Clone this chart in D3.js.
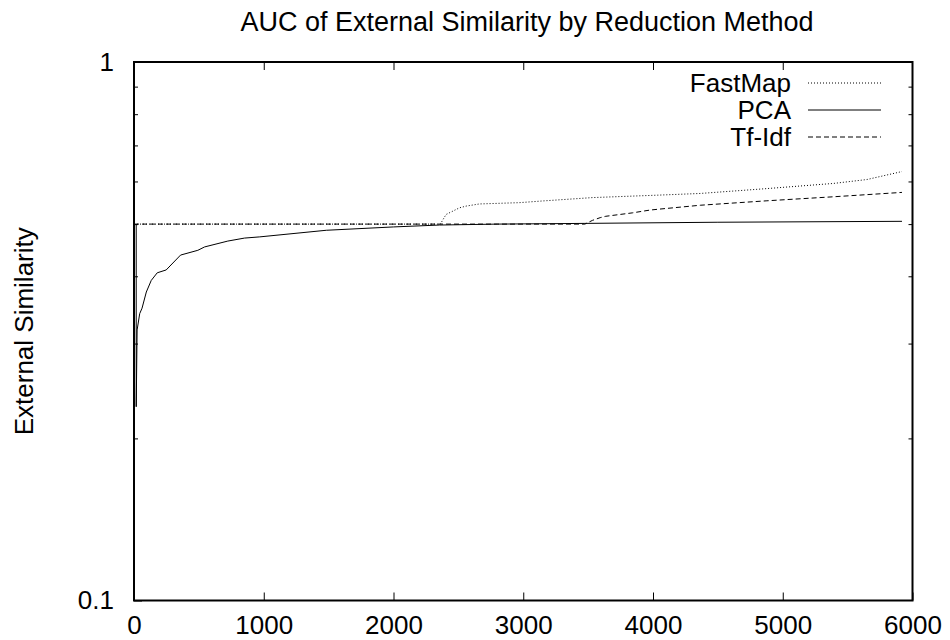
<!DOCTYPE html>
<html>
<head>
<meta charset="utf-8">
<script src="https://cdn.jsdelivr.net/npm/d3@7"></script>
<style>
    body { margin: 0; background: #fff; }
    text { font-family: "Liberation Sans", Arial, sans-serif; fill: #000; }
</style>
</head>
<body>
<div id="chart"></div>
<script>
// tick labels
const xTicks = [0, 1000, 2000, 3000, 4000, 5000, 6000]
const yMajorTicks = [0.1, 1]
const yMinorTicks = [0.2, 0.3, 0.4, 0.5, 0.6, 0.7, 0.8, 0.9]
const seriesNames = ["FastMap", "PCA", "Tf-Idf"]

// series
const fastMapX = [0, 2361, 2405, 2508, 2559, 2662, 2764, 2969, 3148, 3533, 4046, 4364, 4878, 5392, 5649, 5919]
const fastMapY = [0.5, 0.5, 0.521, 0.536, 0.540, 0.545, 0.546, 0.548, 0.552, 0.560, 0.566, 0.570, 0.582, 0.595, 0.605, 0.626]
const pcaX = [17, 17, 24, 44, 62, 95, 133, 179, 248, 359, 492, 544, 723, 852, 969, 1482, 2000, 2354, 2800, 3469, 4500, 5919]
const pcaY = [0.5, 0.229, 0.318, 0.341, 0.349, 0.374, 0.393, 0.406, 0.411, 0.438, 0.447, 0.4535, 0.465, 0.471, 0.4734, 0.487, 0.494, 0.498, 0.500, 0.5015, 0.504, 0.506]
const tfIdfX = [0, 3475, 3533, 3593, 3636, 3841, 3978, 4046, 4364, 4878, 5392, 5919]
const tfIdfY = [0.5, 0.5, 0.508, 0.514, 0.517, 0.5246, 0.531, 0.533, 0.542, 0.5524, 0.562, 0.5726]

const width = 950, height = 640
const plotLeft = 134, plotRight = 912.5, plotTop = 62, plotBottom = 600.5

let svg = d3.select("#chart").append("svg")
    .attr("width", width)
    .attr("height", height)

// scales
let x = d3.scaleLinear().domain([0, 6000]).range([plotLeft, plotRight])
let y = d3.scaleLog().domain([0.1, 1]).range([plotBottom, plotTop])

// title
svg.append("text")
    .attr("x", 527)
    .attr("y", 31)
    .style("text-anchor", "middle")
    .style("font-size", "27px")
    .text("AUC of External Similarity by Reduction Method")

// y label
svg.append("text")
    .attr("transform", "translate(33," + (plotTop + plotBottom) / 2 + ") rotate(-90)")
    .style("text-anchor", "middle")
    .style("font-size", "26px")
    .text("External Similarity")

// axes, ticks pointing inward like gnuplot
let fontSize = "26px"
svg.append("g")
    .attr("transform", "translate(0," + plotBottom + ")")
    .call(d3.axisBottom(x).tickValues(xTicks).tickSize(-8).tickPadding(15).tickFormat(d3.format("d")))
svg.append("g")
    .attr("transform", "translate(0," + plotTop + ")")
    .call(d3.axisTop(x).tickValues(xTicks.slice(1, -1)).tickSize(-8).tickFormat(""))
svg.append("g")
    .attr("transform", "translate(" + plotLeft + ",0)")
    .call(d3.axisLeft(y).tickValues(yMajorTicks).tickSize(-8).tickPadding(20).tickFormat(d => d3.format("")(d)))
svg.append("g")
    .attr("transform", "translate(" + plotLeft + ",0)")
    .call(d3.axisLeft(y).tickValues(yMinorTicks).tickSize(-4).tickFormat(""))
svg.append("g")
    .attr("transform", "translate(" + plotRight + ",0)")
    .call(d3.axisRight(y).tickValues(yMinorTicks).tickSize(-4).tickFormat(""))

svg.selectAll(".domain").remove()
svg.selectAll(".tick line").attr("stroke", "#000").attr("stroke-width", 1)
svg.selectAll(".tick text")
    .style("font-size", fontSize)
    .style("font-family", "'Liberation Sans', Arial, sans-serif")
    .attr("fill", "#000")

// border
svg.append("rect")
    .attr("x", plotLeft)
    .attr("y", plotTop)
    .attr("width", plotRight - plotLeft)
    .attr("height", plotBottom - plotTop)
    .attr("fill", "none")
    .attr("stroke", "#000")
    .attr("stroke-width", 2)

svg.append("clipPath").attr("id", "plotClip")
    .append("rect")
    .attr("x", plotLeft).attr("y", plotTop)
    .attr("width", plotRight - plotLeft).attr("height", plotBottom - plotTop)

let line = d3.line()
    .x(d => x(d[0]))
    .y(d => y(d[1]))

let series = [
    { name: seriesNames[0], xs: fastMapX, ys: fastMapY, dash: "1,2" },
    { name: seriesNames[1], xs: pcaX, ys: pcaY, dash: null },
    { name: seriesNames[2], xs: tfIdfX, ys: tfIdfY, dash: "5,3" }
]

// dashed first so the solid sits on top where they share the 0.5 level
let drawOrder = [2, 0, 1]
drawOrder.forEach(i => {
    let s = series[i]
    svg.append("path")
        .datum(d3.zip(s.xs, s.ys))
        .attr("d", line)
        .attr("clip-path", "url(#plotClip)")
        .attr("fill", "none")
        .attr("stroke", "#000")
        .attr("stroke-width", 1)
        .attr("stroke-dasharray", s.dash)
})

// legend
series.forEach((s, i) => {
    let baseline = 92 + i * 27
    svg.append("text")
        .attr("x", 791)
        .attr("y", baseline)
        .style("text-anchor", "end")
        .style("font-size", "26px")
        .text(s.name)
    svg.append("line")
        .attr("x1", 808)
        .attr("x2", 881)
        .attr("y1", baseline - 9)
        .attr("y2", baseline - 9)
        .attr("stroke", "#000")
        .attr("stroke-width", 1)
        .attr("stroke-dasharray", s.dash)
})
</script>
</body>
</html>
